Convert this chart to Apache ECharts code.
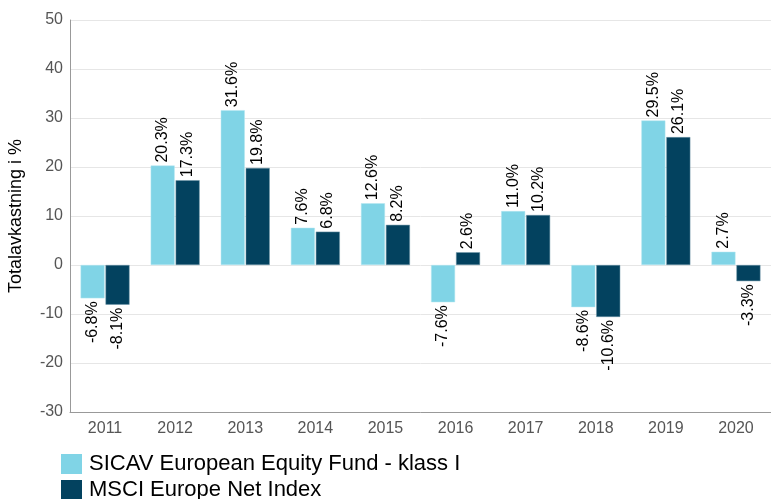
<!DOCTYPE html>
<html>
<head>
<meta charset="utf-8">
<script src="https://cdn.jsdelivr.net/npm/echarts@6/dist/echarts.min.js"></script>
<style>
  html, body { margin: 0; padding: 0; background: #fff; }
  #main { width: 771px; height: 499px; }
</style>
</head>
<body>
<div id="main"></div>
<script>
// data
var years = ['2011', '2012', '2013', '2014', '2015', '2016', '2017', '2018', '2019', '2020'];
var fundValues = [-6.8, 20.3, 31.6, 7.6, 12.6, -7.6, 11.0, -8.6, 29.5, 2.7];
var indexValues = [-8.1, 17.3, 19.8, 6.8, 8.2, 2.6, 10.2, -10.6, 26.1, -3.3];
var fundName = 'SICAV European Equity Fund - klass I';
var indexName = 'MSCI Europe Net Index';

var myChart = echarts.init(document.getElementById('main'));

// label above positive bars, below negative ones, rotated
function withLabels(values) {
    return values.map(function (v) {
        var neg = v < 0;
        return {
            value: v,
            label: {
                position: neg ? 'bottom' : 'top',
                align: neg ? 'right' : 'left'
            }
        };
    });
}

var labelOption = {
    show: true,
    rotate: 90,
    verticalAlign: 'middle',
    distance: 3,
    fontSize: 16,
    color: '#000',
    fontFamily: 'Liberation Sans, Arial, sans-serif',
    formatter: function (p) {
        return p.value.toFixed(1) + '%';
    }
};

// one legend per row so the two entries stack
function legendRow(name, top) {
    return {
        left: 61,
        top: top,
        padding: 0,
        itemWidth: 21,
        itemHeight: 20,
        icon: 'rect',
        itemStyle: { borderWidth: 0 },
        textStyle: { fontSize: 22, color: '#000', padding: [0, 0, 0, 2] },
        data: [name]
    };
}

var option = {
    animation: false,
    textStyle: { fontFamily: 'Liberation Sans, Arial, sans-serif' },
    grid: {
        left: 70,
        right: 0,
        top: 20,
        bottom: 87,
        outerBoundsMode: 'none'
    },
    legend: [legendRow(fundName, 453), legendRow(indexName, 479)],
    xAxis: {
        type: 'category',
        data: years,
        axisLine: { onZero: false, lineStyle: { color: '#999' } },
        axisTick: { show: false },
        axisLabel: { fontSize: 16, color: '#555', margin: 9 }
    },
    yAxis: {
        type: 'value',
        min: -30,
        max: 50,
        interval: 10,
        name: 'Totalavkastning i %',
        nameLocation: 'middle',
        nameGap: 45,
        nameTextStyle: { fontSize: 18, color: '#000' },
        axisLine: { show: true, lineStyle: { color: '#999' } },
        axisTick: { show: false },
        axisLabel: { fontSize: 16, color: '#555', margin: 7 },
        splitLine: { lineStyle: { color: '#e6e6e6' } }
    },
    series: [
        {
            name: fundName,
            type: 'bar',
            barWidth: 24,
            barGap: '4%',
            itemStyle: { color: '#80d4e6', borderColor: '#b5e6f1', borderWidth: 0.5 },
            label: labelOption,
            data: withLabels(fundValues)
        },
        {
            name: indexName,
            type: 'bar',
            barWidth: 24,
            itemStyle: { color: '#03425f', borderColor: '#6f96a8', borderWidth: 0.5 },
            label: labelOption,
            data: withLabels(indexValues)
        }
    ]
};

myChart.setOption(option);
</script>
</body>
</html>
